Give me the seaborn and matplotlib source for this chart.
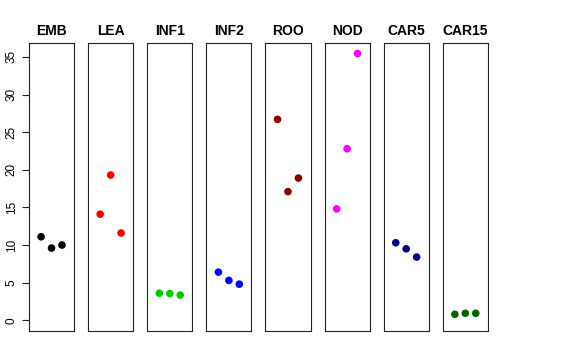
import pandas as pd
import numpy as np
import seaborn as sns
from matplotlib import pyplot as plt

# sample groups and the three replicate values of each
groups = ["EMB", "LEA", "INF1", "INF2", "ROO", "NOD", "CAR5", "CAR15"]
colors = ["#000000", "#FF0000", "#00CD00", "#0000FF",
          "#8B0000", "#FF00FF", "#00008B", "#006400"]
rep1 = [11.1, 14.1, 3.6, 6.4, 26.7, 14.8, 10.3, 0.8]
rep2 = [9.6, 19.3, 3.55, 5.3, 17.1, 22.8, 9.5, 0.93]
rep3 = [10.0, 11.6, 3.35, 4.8, 18.9, 35.45, 8.4, 0.93]
yticks = [0, 5, 10, 15, 20, 25, 30, 35]

rows = []
for g, a, b, c in zip(groups, rep1, rep2, rep3):
    for i, v in enumerate([a, b, c]):
        rows.append({"group": g, "rep": i + 1, "value": v})
df = pd.DataFrame(rows)

sns.set_style("white", {"text.color": "black", "axes.labelcolor": "black",
                        "ytick.color": "black"})
plt.rcParams["font.family"] = ["Liberation Sans", "DejaVu Sans"]

fig, axes = plt.subplots(1, 8, figsize=(5.76, 3.6), dpi=100, sharey=True)
fig.subplots_adjust(left=0.0503, right=0.847, top=0.881, bottom=0.0806, wspace=0.31)

for ax, g, col in zip(axes, groups, colors):
    sub = df[df.group == g]
    sns.scatterplot(data=sub, x="rep", y="value", color=col, s=30,
                    edgecolor="none", ax=ax, legend=False)
    ax.set_xlim(-0.16, 4.16)
    ax.set_ylim(-1.42, 36.87)
    ax.set_xticks([])
    ax.set_xlabel("")
    ax.set_ylabel("")
    ax.set_title(g, fontsize=10, fontweight="bold", color="black", pad=6)
    for sp in ax.spines.values():
        sp.set_visible(True)
        sp.set_color("#222222")
        sp.set_linewidth(0.8)
    ax.tick_params(left=False, labelleft=False)

ax0 = axes[0]
ax0.set_yticks(yticks)
ax0.tick_params(axis="y", left=True, labelleft=True, direction="out",
                length=5, width=0.8, color="#222222", labelcolor="black",
                labelsize=8.5, labelrotation=90, pad=3)
for lab in ax0.get_yticklabels():
    lab.set_verticalalignment("center")

plt.savefig("out.png", dpi=100)
